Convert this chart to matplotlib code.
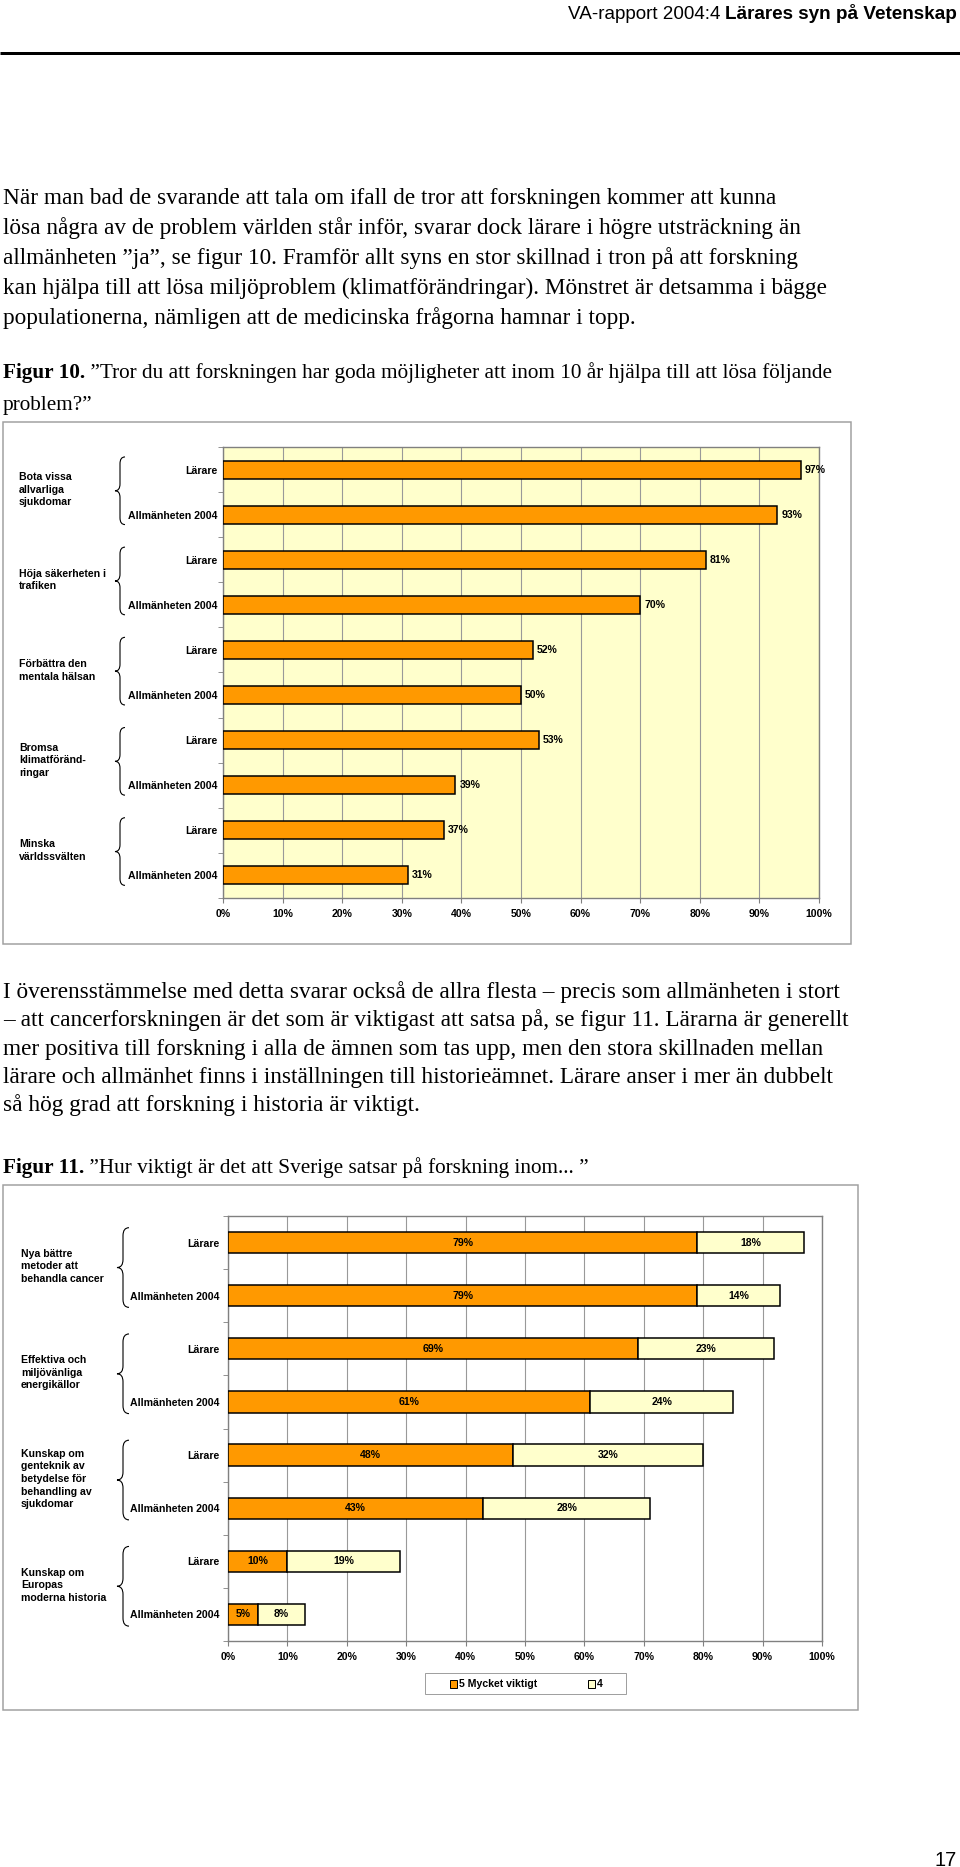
import matplotlib
matplotlib.use("Agg")
import matplotlib.pyplot as plt
import matplotlib.transforms as mtransforms
from matplotlib.patches import Rectangle, PathPatch
from matplotlib.path import Path

# page size in pixels
W, H = 960, 1867
DPI = 100

plt.rcParams['font.family'] = ['Liberation Sans', 'DejaVu Sans']

# header / body text
header_regular = "VA-rapport 2004:4 "
header_bold = "Lärares syn på Vetenskap"
page_number = "17"

para1 = [
    "När man bad de svarande att tala om ifall de tror att forskningen kommer att kunna",
    "lösa några av de problem världen står inför, svarar dock lärare i högre utsträckning än",
    "allmänheten ”ja”, se figur 10. Framför allt syns en stor skillnad i tron på att forskning",
    "kan hjälpa till att lösa miljöproblem (klimatförändringar). Mönstret är detsamma i bägge",
    "populationerna, nämligen att de medicinska frågorna hamnar i topp.",
]
caption10_bold = "Figur 10."
caption10 = [" ”Tror du att forskningen har goda möjligheter att inom 10 år hjälpa till att lösa följande",
             "problem?”"]

para2 = [
    "I överensstämmelse med detta svarar också de allra flesta – precis som allmänheten i stort",
    "– att cancerforskningen är det som är viktigast att satsa på, se figur 11. Lärarna är generellt",
    "mer positiva till forskning i alla de ämnen som tas upp, men den stora skillnaden mellan",
    "lärare och allmänhet finns i inställningen till historieämnet. Lärare anser i mer än dubbelt",
    "så hög grad att forskning i historia är viktigt.",
]
caption11_bold = "Figur 11."
caption11 = " ”Hur viktigt är det att Sverige satsar på forskning inom... ”"

# figure 10 data
series_names = ["Lärare", "Allmänheten 2004"]
fig10_groups = [["Bota vissa", "allvarliga", "sjukdomar"],
                ["Höja säkerheten i", "trafiken"],
                ["Förbättra den", "mentala hälsan"],
                ["Bromsa", "klimatföränd-", "ringar"],
                ["Minska", "världssvälten"]]
fig10_larare = [97, 81, 52, 53, 37]
fig10_allman = [93, 70, 50, 39, 31]

# figure 11 data
fig11_groups = [["Nya bättre", "metoder att", "behandla cancer"],
                ["Effektiva och", "miljövänliga", "energikällor"],
                ["Kunskap om", "genteknik av", "betydelse för", "behandling av", "sjukdomar"],
                ["Kunskap om", "Europas", "moderna historia"]]
fig11_larare_5 = [79, 69, 48, 10]
fig11_larare_4 = [18, 23, 32, 19]
fig11_allman_5 = [79, 61, 43, 5]
fig11_allman_4 = [14, 24, 28, 8]
legend_labels = ["5 Mycket viktigt", "4"]

xtick_vals = list(range(0, 101, 10))

ORANGE = "#FF9900"
PALE = "#FFFFCC"
GREY = "#999999"


def pt(v):
    # pixels -> points
    return v * 72.0 / DPI


fig = plt.figure(figsize=(W / DPI, H / DPI), dpi=DPI)
page = fig.add_axes([0, 0, 1, 1])
page.set_xlim(0, W)
page.set_ylim(H, 0)
page.axis('off')
renderer = fig.canvas.get_renderer()


def width_of(s, size, **kw):
    t = page.text(0, 0, s, fontsize=size, **kw)
    w = t.get_window_extent(renderer).width
    t.remove()
    return w


def ax_at(l, t, r, b):
    return fig.add_axes([l / W, 1 - b / H, (r - l) / W, (b - t) / H])


# ---- header, fitted to run from x=569 to x=957
base = 12
hw = width_of(header_regular, base) + width_of(header_bold, base, fontweight='bold')
hsize = base * 388 / hw
hw_bold = width_of(header_bold, hsize, fontweight='bold')
page.text(957, 19, header_bold, fontsize=hsize, fontweight='bold', ha='right', va='baseline')
page.text(957 - hw_bold, 19, header_regular, fontsize=hsize, ha='right', va='baseline')
page.plot([0, W], [53, 53], color='black', lw=pt(3), solid_capstyle='butt')

# ---- serif body text, size fitted to the widest line
SERIF = ['Liberation Serif', 'DejaVu Serif']
base = 14
fsize = base * (832 - 3) / width_of(para1[3], base, family=SERIF)
csize = fsize * 0.91


def body_lines(lines, y0, step):
    for i, s in enumerate(lines):
        page.text(3, y0 + i * step, s, fontsize=fsize, family=SERIF, va='baseline')


def caption(bold, rest, y0, step):
    page.text(3, y0, bold, fontsize=csize, family=SERIF, fontweight='bold', va='baseline')
    bw = width_of(bold, csize, family=SERIF, fontweight='bold')
    page.text(3 + bw, y0, rest[0], fontsize=csize, family=SERIF, va='baseline')
    for i, s in enumerate(rest[1:]):
        page.text(3, y0 + (i + 1) * step, s, fontsize=csize, family=SERIF, va='baseline')


body_lines(para1, 204, 30)
caption(caption10_bold, caption10, 378, 32)
body_lines(para2, 998, 28.3)
caption(caption11_bold, [caption11], 1173, 30)

page.text(957, 1860, page_number, fontsize=pt(20), ha='right', va='center')

# chart frames
page.add_patch(Rectangle((3, 422), 848, 522, fill=False, ec='#a0a0a0', lw=pt(1.5)))
page.add_patch(Rectangle((3, 1185), 855, 525, fill=False, ec='#a0a0a0', lw=pt(1.5)))

LSIZE = pt(10.5)


def setup_chart(ax, n_slots, face, label_pad):
    ax.set_xlim(0, 100)
    ax.set_ylim(n_slots, 0)
    ax.set_facecolor(face)
    for s in ax.spines.values():
        s.set_color('#808080')
        s.set_linewidth(1)
    ax.set_xticks(xtick_vals)
    ax.set_xticklabels([f"{v}%" for v in xtick_vals], fontweight='bold', fontsize=LSIZE)
    ax.tick_params(axis='x', direction='out', length=pt(5), color='#808080', pad=pt(6))
    ax.grid(axis='x', color=GREY, lw=0.8)
    ax.set_axisbelow(True)
    ax.set_yticks([i + 0.5 for i in range(n_slots)])
    ax.set_yticklabels(series_names * (n_slots // 2), fontweight='bold', fontsize=LSIZE)
    ax.set_yticks(list(range(0, n_slots + 1)), minor=True)
    ax.tick_params(axis='y', which='major', length=0, pad=pt(label_pad))
    ax.tick_params(axis='y', which='minor', direction='out', length=pt(5), color='#808080')


def brace(ax, x_tip, x_arm, y0, y1, r=0.15):
    trans = mtransforms.blended_transform_factory(ax.transAxes, ax.transData)
    xm = (x_tip + x_arm) / 2
    yc = (y0 + y1) / 2
    verts = [(x_arm, y0), (xm, y0), (xm, y0 + r),
             (xm, yc - r), (xm, yc), (x_tip, yc),
             (xm, yc), (xm, yc + r),
             (xm, y1 - r), (xm, y1), (x_arm, y1)]
    codes = [Path.MOVETO, Path.CURVE3, Path.CURVE3,
             Path.LINETO, Path.CURVE3, Path.CURVE3,
             Path.CURVE3, Path.CURVE3,
             Path.LINETO, Path.CURVE3, Path.CURVE3]
    ax.add_patch(PathPatch(Path(verts, codes), fill=False, lw=0.8, ec='black',
                           transform=trans, clip_on=False))


def group_labels(ax, groups, x_frac, ax_wpx, tip_px, arm_px):
    trans = mtransforms.blended_transform_factory(ax.transAxes, ax.transData)
    for g, lines in enumerate(groups):
        yc = 2 * g + 1
        ax.text(x_frac, yc - 0.05, "\n".join(lines), transform=trans, ha='left', va='center',
                fontweight='bold', fontsize=LSIZE, linespacing=1.33, clip_on=False)
        brace(ax, tip_px / ax_wpx, arm_px / ax_wpx, yc - 0.78, yc + 0.72)


# ---- figure 10
L10, R10, T10, B10 = 223, 819, 447, 898
ax10 = ax_at(L10, T10, R10, B10)
setup_chart(ax10, 10, PALE, 6)
pos_l = [2 * g + 0.5 for g in range(len(fig10_larare))]
pos_a = [2 * g + 1.5 for g in range(len(fig10_allman))]
ax10.barh(pos_l, fig10_larare, height=0.4, color=ORANGE, ec='black', lw=1.1, zorder=3)
ax10.barh(pos_a, fig10_allman, height=0.4, color=ORANGE, ec='black', lw=1.1, zorder=3)
for y, v in list(zip(pos_l, fig10_larare)) + list(zip(pos_a, fig10_allman)):
    ax10.annotate(f"{v}%", (v, y), xytext=(pt(4), 0), textcoords='offset points',
                  va='center', ha='left', fontweight='bold', fontsize=LSIZE)
w10 = R10 - L10
group_labels(ax10, fig10_groups, (19 - L10) / w10, w10, 115 - L10, 125 - L10)

# ---- figure 11
L11, R11, T11, B11 = 228, 822, 1216, 1641
ax11 = ax_at(L11, T11, R11, B11)
setup_chart(ax11, 8, 'white', 8)
pos_l = [2 * g + 0.5 for g in range(len(fig11_larare_5))]
pos_a = [2 * g + 1.5 for g in range(len(fig11_allman_5))]
ax11.barh(pos_l, fig11_larare_5, height=0.4, color=ORANGE, ec='black', lw=1.1, zorder=3)
ax11.barh(pos_l, fig11_larare_4, left=fig11_larare_5, height=0.4, color=PALE, ec='black', lw=1.1, zorder=3)
ax11.barh(pos_a, fig11_allman_5, height=0.4, color=ORANGE, ec='black', lw=1.1, zorder=3)
ax11.barh(pos_a, fig11_allman_4, left=fig11_allman_5, height=0.4, color=PALE, ec='black', lw=1.1, zorder=3)
rows = [(pos_l, fig11_larare_5, fig11_larare_4), (pos_a, fig11_allman_5, fig11_allman_4)]
for ys, v5s, v4s in rows:
    for y, v5, v4 in zip(ys, v5s, v4s):
        ax11.text(v5 / 2, y, f"{v5}%", ha='center', va='center', fontweight='bold', fontsize=LSIZE, zorder=4)
        ax11.text(v5 + v4 / 2, y, f"{v4}%", ha='center', va='center', fontweight='bold', fontsize=LSIZE, zorder=4)
w11 = R11 - L11
group_labels(ax11, fig11_groups, (21 - L11) / w11, w11, 117 - L11, 129 - L11)

# legend for figure 11
page.add_patch(Rectangle((425, 1673), 201, 21, fill=False, ec='#a0a0a0', lw=pt(1)))
for x0, lab, col in [(450, legend_labels[0], ORANGE), (588, legend_labels[1], PALE)]:
    page.add_patch(Rectangle((x0, 1680), 7, 8, fc=col, ec='black', lw=pt(1)))
    page.text(x0 + 9, 1684, lab, fontsize=LSIZE, fontweight='bold', va='center', ha='left')

fig.savefig("out.png", dpi=DPI)
